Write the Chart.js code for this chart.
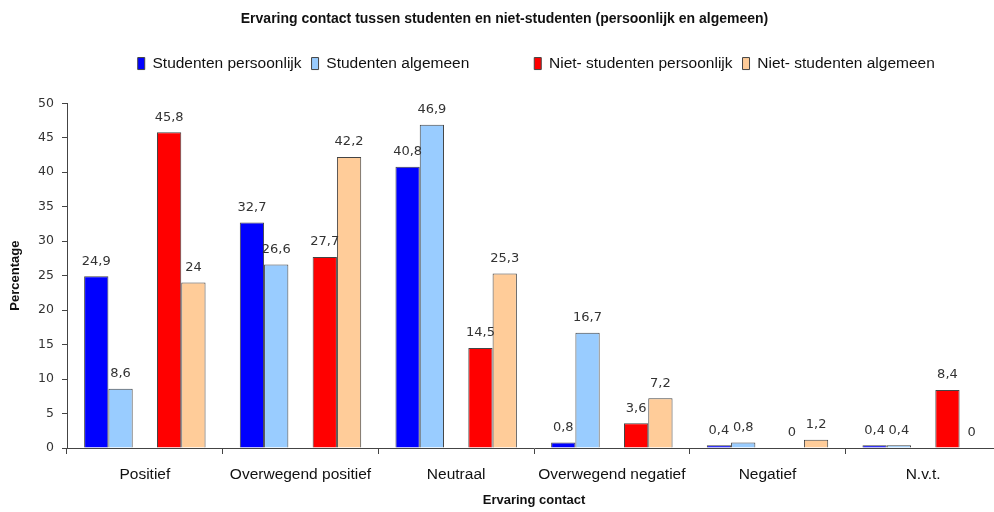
<!DOCTYPE html>
<html lang="nl">
	<head>
		<meta charset="utf-8">
		<title>Ervaring contact tussen studenten en niet-studenten</title>
		<script src="https://cdn.jsdelivr.net/npm/chart.js"></script>
		<style>
			html, body { margin: 0; padding: 0; background: #fff; overflow: hidden; }
			#wrap { width: 1004px; height: 512px; }
		</style>
	</head>
	<body>
		<div id="wrap"><canvas id="chart" width="1004" height="512"></canvas></div>
		<script>
			const categories = ["Positief", "Overwegend positief", "Neutraal", "Overwegend negatief", "Negatief", "N.v.t."]
			const studentenPersoonlijk = [24.9, 32.7, 40.8, 0.8, 0.4, 0.4]
			const studentenAlgemeen = [8.6, 26.6, 46.9, 16.7, 0.8, 0.4]
			const nietStudentenPersoonlijk = [45.8, 27.7, 14.5, 3.6, 0, 8.4]
			const nietStudentenAlgemeen = [24, 42.2, 25.3, 7.2, 1.2, 0]
			const yTicks = [0, 5, 10, 15, 20, 25, 30, 35, 40, 45, 50]

			const sans = "'Liberation Sans', Arial, sans-serif"
			const numFont = "'DejaVu Sans', Verdana, sans-serif"

			// prints the value above every real bar, with a decimal comma
			const valueLabels = {
				id: "valueLabels",
				afterDatasetsDraw(chart) {
					const ctx = chart.ctx
					ctx.save()
					ctx.font = "13px " + numFont
					ctx.fillStyle = "#333"
					ctx.textAlign = "center"
					ctx.textBaseline = "middle"
					chart.data.datasets.forEach((ds, i) => {
						if (ds.spacer) return
						chart.getDatasetMeta(i).data.forEach((bar, j) => {
							ctx.fillText(String(ds.data[j]).replace(".", ","), bar.x, bar.y - 15)
						})
					})
					ctx.restore()
				}
			}

			// leaves extra white space between the legend and the plot
			const legendGap = {
				id: "legendGap",
				beforeUpdate(chart) {
					const legend = chart.legend
					if (!legend || legend._gapDone) return
					const fit = legend.fit
					legend.fit = function () {
						fit.call(this)
						this.height += 22
					}
					legend._gapDone = true
				}
			}

			const border = "#444"
			new Chart(document.getElementById("chart").getContext("2d"), {
				type: "bar",
				data: {
					labels: categories,
					datasets: [
						{ label: "Studenten persoonlijk", data: studentenPersoonlijk, backgroundColor: "#0000ff", borderColor: border, borderWidth: 1 },
						{ label: "Studenten algemeen", data: studentenAlgemeen, backgroundColor: "#99ccff", borderColor: border, borderWidth: 1 },
						{ label: "       ", data: categories.map(() => null), backgroundColor: "rgba(0,0,0,0)", borderColor: "rgba(0,0,0,0)", borderWidth: 0, spacer: true },
						{ label: "Niet- studenten persoonlijk", data: nietStudentenPersoonlijk, backgroundColor: "#ff0000", borderColor: border, borderWidth: 1 },
						{ label: "Niet- studenten algemeen", data: nietStudentenAlgemeen, backgroundColor: "#ffcc99", borderColor: border, borderWidth: 1 }
					]
				},
				options: {
					responsive: false,
					animation: false,
					barPercentage: 1,
					categoryPercentage: 0.78,
					layout: { padding: { top: 4, right: 3, left: 8, bottom: 0 } },
					scales: {
						x: {
							grid: { display: true, offset: true, drawOnChartArea: false, drawTicks: true, tickLength: 6, color: "#444" },
							border: { color: "#444" },
							ticks: { font: { family: sans, size: 15.5 }, color: "#111", padding: 11, maxRotation: 0 },
							title: { display: true, text: "Ervaring contact", font: { family: sans, size: 13, weight: "bold" }, color: "#111", padding: { top: 0, bottom: 4 } },
							afterFit: scale => { scale.height = 64 }
						},
						y: {
							min: 0,
							max: 50,
							afterBuildTicks: scale => { scale.ticks = yTicks.map(v => ({ value: v })) },
							grid: { display: true, drawOnChartArea: false, drawTicks: true, tickLength: 5, color: "#444" },
							border: { color: "#444" },
							ticks: { font: { family: numFont, size: 12.5 }, color: "#333", padding: 8 },
							title: { display: true, text: "Percentage", font: { family: sans, size: 13, weight: "bold" }, color: "#111", padding: { top: 0, bottom: 14 } },
							afterFit: scale => { scale.width = 59 }
						}
					},
					plugins: {
						title: {
							display: true,
							text: "Ervaring contact tussen studenten en niet-studenten (persoonlijk en algemeen)",
							font: { family: sans, size: 14, weight: "bold" },
							color: "#111",
							padding: { top: 7, bottom: 18 }
						},
						legend: {
							labels: {
								font: { family: sans, size: 15.5 },
								color: "#111",
								boxWidth: 7,
								boxHeight: 12,
								padding: 10,
								// a blank first entry pushes the legend a bit to the right, as in the original
								generateLabels: chart => {
									const items = Chart.defaults.plugins.legend.labels.generateLabels(chart)
									items.unshift({ text: "         ", fillStyle: "rgba(0,0,0,0)", strokeStyle: "rgba(0,0,0,0)", lineWidth: 0, hidden: false, datasetIndex: -1 })
									return items
								}
							},
							onClick: () => {}
						},
						tooltip: { enabled: false }
					}
				},
				plugins: [valueLabels, legendGap]
			})
		</script>
	</body>
</html>
